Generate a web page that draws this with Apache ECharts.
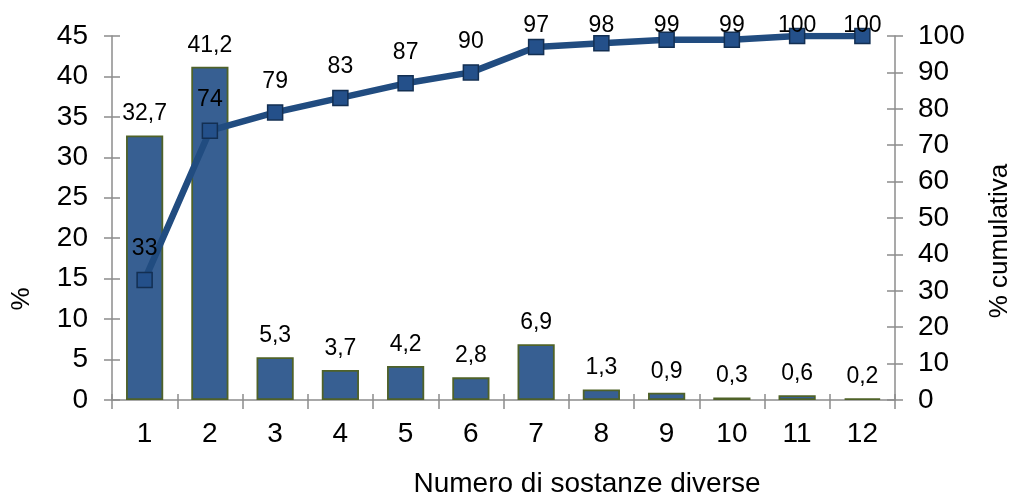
<!DOCTYPE html>
<html>
<head>
<meta charset="utf-8">
<script src="https://cdn.jsdelivr.net/npm/echarts@6/dist/echarts.min.js"></script>
<style>
  html, body { margin: 0; padding: 0; background: #ffffff; }
  #chart { width: 1016px; height: 496px; }
</style>
</head>
<body>
<div id="chart"></div>
<script>
// Number of different substances
const categories = ['1', '2', '3', '4', '5', '6', '7', '8', '9', '10', '11', '12'];
// Share of cases (%)
const percentValues = [32.7, 41.2, 5.3, 3.7, 4.2, 2.8, 6.9, 1.3, 0.9, 0.3, 0.6, 0.2];
// Cumulative share (%)
const cumulativeValues = [33, 74, 79, 83, 87, 90, 97, 98, 99, 99, 100, 100];

const FONT = '"Liberation Sans", Arial, sans-serif';
const AXIS_GREY = '#8c8c8c';

const chart = echarts.init(document.getElementById('chart'), null, { renderer: 'canvas' });

const commaDecimal = v => v.toFixed(1).replace('.', ',');

chart.setOption({
  backgroundColor: '#ffffff',
  animation: false,
  textStyle: { fontFamily: FONT },
  grid: { left: 112, right: 121, top: 36, bottom: 96, containLabel: false },
  xAxis: [
    {
      type: 'category',
      data: categories,
      position: 'bottom',
      boundaryGap: true,
      axisLine: { lineStyle: { color: AXIS_GREY, width: 1.5 } },
      axisTick: { show: true, inside: false, length: 9, alignWithLabel: false, lineStyle: { color: AXIS_GREY, width: 1.5 } },
      axisLabel: { color: '#000', fontSize: 28, fontFamily: FONT, margin: 20 },
      splitLine: { show: false }
    },
    {
      // inner half of the crossing ticks on the category axis
      type: 'category',
      data: categories,
      position: 'bottom',
      boundaryGap: true,
      axisLine: { show: false },
      axisTick: { show: true, inside: true, length: 6, lineStyle: { color: AXIS_GREY, width: 1.5 } },
      axisLabel: { show: false },
      splitLine: { show: false }
    }
  ],
  yAxis: [
    {
      type: 'value',
      position: 'left',
      min: 0, max: 45, interval: 5,
      axisLine: { show: true, lineStyle: { color: AXIS_GREY, width: 1.5 } },
      axisTick: { show: true, inside: false, length: 8, lineStyle: { color: AXIS_GREY, width: 1.5 } },
      axisLabel: { color: '#000', fontSize: 28, fontFamily: FONT, margin: 24 },
      splitLine: { show: false }
    },
    {
      type: 'value',
      position: 'right',
      min: 0, max: 100, interval: 10,
      axisLine: { show: true, lineStyle: { color: AXIS_GREY, width: 1.5 } },
      axisTick: { show: true, inside: false, length: 8, lineStyle: { color: AXIS_GREY, width: 1.5 } },
      axisLabel: { color: '#000', fontSize: 28, fontFamily: FONT, margin: 23 },
      splitLine: { show: false }
    },
    {
      type: 'value',
      position: 'left',
      min: 0, max: 45, interval: 5,
      axisLine: { show: false },
      axisTick: { show: true, inside: true, length: 8, lineStyle: { color: AXIS_GREY, width: 1.5 } },
      axisLabel: { show: false },
      splitLine: { show: false }
    },
    {
      type: 'value',
      position: 'right',
      min: 0, max: 100, interval: 10,
      axisLine: { show: false },
      axisTick: { show: true, inside: true, length: 8, lineStyle: { color: AXIS_GREY, width: 1.5 } },
      axisLabel: { show: false },
      splitLine: { show: false }
    }
  ],
  series: [
    {
      name: '%',
      type: 'bar',
      xAxisIndex: 0,
      yAxisIndex: 0,
      data: percentValues,
      barWidth: '57%',
      itemStyle: { color: '#375f92', borderColor: '#4f6228', borderWidth: 1.8 },
      label: {
        show: true,
        position: 'top',
        distance: 10,
        color: '#000',
        fontSize: 23,
        fontFamily: FONT,
        formatter: p => commaDecimal(p.value)
      },
      z: 2
    },
    {
      name: '% cumulativa',
      type: 'line',
      xAxisIndex: 0,
      yAxisIndex: 1,
      data: cumulativeValues,
      symbol: 'rect',
      symbolSize: 15,
      lineStyle: { color: '#214c80', width: 6.5 },
      itemStyle: { color: '#24508a', borderColor: '#132f52', borderWidth: 1.5 },
      label: {
        show: true,
        position: 'top',
        distance: 11,
        color: '#000',
        fontSize: 23,
        fontFamily: FONT
      },
      labelLayout: params => {
        const top = params.labelRect.y;
        return top < 14 ? { dy: 14 - top } : {};
      },
      z: 3
    }
  ],
  graphic: [
    {
      type: 'text',
      x: 587, y: 484,
      style: {
        text: 'Numero di sostanze diverse',
        font: '28px ' + FONT,
        fill: '#000',
        align: 'center',
        verticalAlign: 'middle'
      }
    },
    {
      type: 'text',
      x: 22, y: 299,
      rotation: Math.PI / 2,
      style: {
        text: '%',
        font: '26px ' + FONT,
        fill: '#000',
        align: 'center',
        verticalAlign: 'middle'
      }
    },
    {
      type: 'text',
      x: 1000, y: 241,
      rotation: Math.PI / 2,
      style: {
        text: '% cumulativa',
        font: '26px ' + FONT,
        fill: '#000',
        align: 'center',
        verticalAlign: 'middle'
      }
    }
  ]
});
</script>
</body>
</html>
